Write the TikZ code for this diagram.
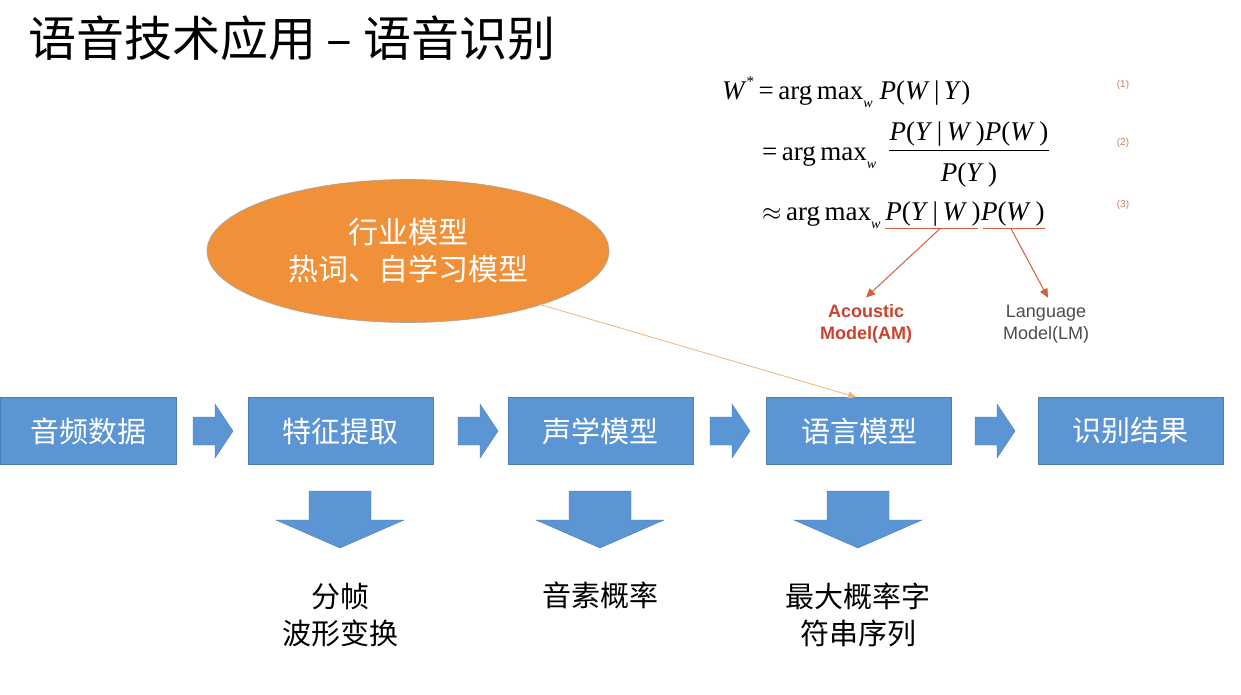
\documentclass[tikz,border=0pt]{standalone}
\usepackage{fontspec}
\setmainfont{Liberation Serif}
\newfontfamily\cjk{Noto Sans CJK SC}
\newfontfamily\hel{Liberation Sans}
\usetikzlibrary{shapes.geometric,arrows.meta,calc}
\definecolor{boxblue}{HTML}{5B95D3}
\definecolor{boxedge}{HTML}{4A7FBE}
\definecolor{ellorange}{HTML}{F0913A}
\definecolor{amred}{HTML}{C8442F}
\definecolor{lnred}{HTML}{D0603E}
\definecolor{eqnum}{HTML}{C88060}
\begin{document}
\begin{tikzpicture}[x=1pt,y=-1pt,
  stepbox/.style={draw=boxedge,line width=0.8pt,fill=boxblue,minimum width=185pt,minimum height=67pt,
     inner sep=0pt,text=white,font=\cjk\fontsize{29}{34}\selectfont},
  bigarrow/.style={fill=boxblue,draw=boxedge,line width=0.4pt},
  outtext/.style={align=center,font=\cjk\fontsize{29}{37}\selectfont,text=black},
  eq/.style={inner sep=0pt,font=\fontsize{27}{32}\selectfont},
  eqn/.style={inner sep=0pt,font=\hel\fontsize{10}{12}\selectfont,text=eqnum},
  redline/.style={draw=lnred,line width=1pt},
  redarrow/.style={draw=lnred,line width=1pt,-{Triangle[length=9pt,width=8pt]}},
  lbl/.style={align=center,font=\hel\fontsize{18}{22}\selectfont,inner sep=0pt}
]
\useasboundingbox[fill=white] (0,0) rectangle (1241,694);

% title
\node[anchor=west,inner sep=0pt,font=\cjk\fontsize{48}{52}\selectfont] (title) at (28,38) {语音技术应用 – 语音识别};

% pipeline boxes
\node[stepbox,minimum width=176pt] (b1) at (88,431) {音频数据};
\node[stepbox] (b2) at (340.5,431) {特征提取};
\node[stepbox] (b3) at (600.5,431) {声学模型};
\node[stepbox] (b4) at (859,431) {语言模型};
\node[stepbox] (b5) at (1130.5,431) {识别结果};

% right arrows
\foreach \x in {193,458,710,975}{
  \path[bigarrow] (\x,417) -- (\x+22,417) -- (\x+22,404) -- (\x+40,431) -- (\x+22,458) -- (\x+22,445) -- (\x,445) -- cycle;
}
% down arrows
\foreach \x in {340,600,858}{
  \path[bigarrow] (\x-31,491) -- (\x+31,491) -- (\x+31,520) -- (\x+64,520) -- (\x,548) -- (\x-64,520) -- (\x-31,520) -- cycle;
}

% outputs
\node[outtext] (o1) at (340,615) {分帧\\波形变换};
\node[outtext,anchor=north] (o2) at (600,578) {音素概率};
\node[outtext] (o3) at (858,615) {最大概率字\\符串序列};

% ellipse
\node[ellipse,draw=gray!70,line width=0.6pt,fill=ellorange,minimum width=402pt,minimum height=143pt,
  align=center,text=white,font=\cjk\fontsize{30}{37}\selectfont] (ell) at (408,251) {行业模型\\热词、自学习模型};
\draw[draw=ellorange!70!white,line width=0.8pt,-{Triangle[length=8pt,width=7pt]},shorten <=-2pt]
  (ell.-22) -- ([xshift=-3pt]b4.north);

% formula
\node[eq,anchor=base west] (l1) at (722,99) {\textit{W}\raisebox{0.45em}{\fontsize{15}{15}\selectfont *}\,=\,arg\,max\raisebox{-0.3em}{\fontsize{14}{14}\selectfont\textit{w}} \textit{P}(\textit{W}\,|\,\textit{Y})};
\node[eq,anchor=base west] (l2) at (762,160) {=\,arg\,max\raisebox{-0.3em}{\fontsize{14}{14}\selectfont\textit{w}}};
\node[eq,anchor=base] (num) at (969,140) {\textit{P}(\textit{Y}\,|\,\textit{W}\,)\textit{P}(\textit{W}\,)};
\node[eq,anchor=base] (den) at (969,181) {\textit{P}(\textit{Y}\,)};
\draw[line width=0.9pt] ([yshift=-4pt]num.south west) -- ([yshift=-4pt]num.south east);
\node[eq,anchor=base west] (l3) at (762,220) {$\approx$\,arg\,max\raisebox{-0.3em}{\fontsize{14}{14}\selectfont\textit{w}}\,};
\node[eq,anchor=base west] (pyw) at (l3.base east) {\textit{P}(\textit{Y}\,|\,\textit{W}\,)};
\node[eq,anchor=base west] (pw) at (pyw.base east) {\textit{P}(\textit{W}\,)};
\coordinate (u1a) at ([yshift=-8pt]pyw.base west);
\coordinate (u1b) at ([yshift=-8pt,xshift=-3pt]pyw.base east);
\coordinate (u2a) at ([yshift=-8pt,xshift=2pt]pw.base west);
\coordinate (u2b) at ([yshift=-8pt]pw.base east);
\draw[redline] (u1a) -- (u1b);
\draw[redline] (u2a) -- (u2b);
\node[eqn] (n1) at (1123,85) {(1)};
\node[eqn] (n2) at (1123,143) {(2)};
\node[eqn] (n3) at (1123,205) {(3)};

% model labels
\node[lbl,text=amred,font=\hel\bfseries\fontsize{18}{22}\selectfont] (am) at (866,324) {Acoustic\\Model(AM)};
\node[lbl,text=black!70] (lm) at (1046,324) {Language\\Model(LM)};
\draw[redarrow] ($(u1a)!0.6!(u1b)$) -- ([yshift=7pt]am.north);
\draw[redarrow] ($(u2a)!0.45!(u2b)$) -- ([yshift=7pt,xshift=2pt]lm.north);
\end{tikzpicture}
\end{document}
